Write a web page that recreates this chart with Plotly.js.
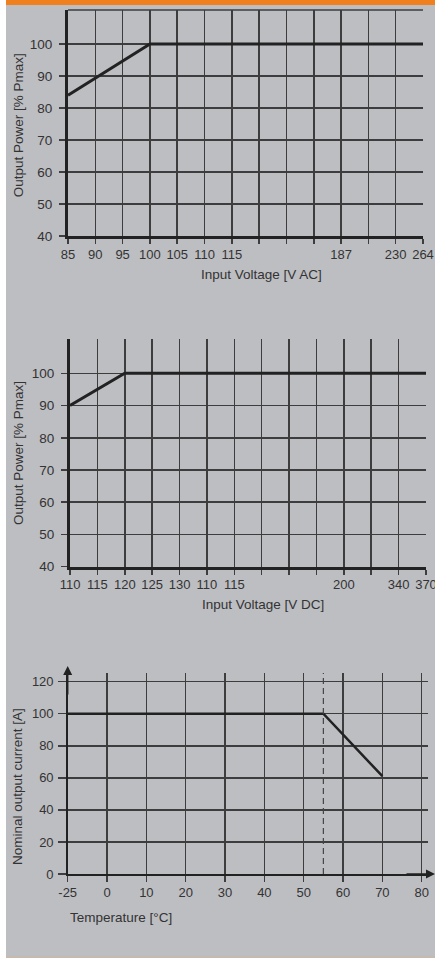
<!DOCTYPE html>
<html>
<head>
<meta charset="utf-8">
<script src="https://cdn.plot.ly/plotly-3.0.1.min.js"></script>
<style>
html,body{margin:0;padding:0;background:#ffffff;}
#chart{width:435px;height:958px;}
</style>
</head>
<body>
<div id="chart"></div>
<script>
// ---- Data ----
// Chart 1: AC input derating
const acTickLabels = ['85','90','95','100','105','110','115','','','','187','','230','264'];
const acCurveVolt = ['85','100','264'];
const acCurvePower = [84, 100, 100];

// Chart 2: DC input derating
const dcTickLabels = ['110','115','120','125','130','110','115','','','','200','','340','370'];
const dcCurveVolt = ['110','120','370'];
const dcCurvePower = [90, 100, 100];

const powerTicks = [40, 50, 60, 70, 80, 90, 100];

// Chart 3: temperature derating
const tempTicks = [-25, 0, 10, 20, 30, 40, 50, 60, 70, 80];
const tempCurve = [-25, 55, 70];
const currentCurve = [100, 100, 61];
const currentTicks = [0, 20, 40, 60, 80, 100, 120];
const deratingStart = 55;

// broken temperature axis: -25 sits one grid step left of 0
function tpos(t) { return t < 0 ? t * 10 / 25 : t; }

// ---- Styling ----
const W = 435, H = 958;
const bg = '#bdbec2';
const ink = '#222222';
const grid = '#3d3d3d';
const txt = '#333333';
const narrow = '"Liberation Sans Narrow", "Arial Narrow", "Liberation Sans", Arial, sans-serif';
const regular = '"Liberation Sans", Arial, sans-serif';
const px = v => v / W;
const py = v => 1 - v / H;

const idx = (labels, v) => labels.indexOf(v);

const traces = [
  {x: acCurveVolt.map(v => idx(acTickLabels, v)), y: acCurvePower, xaxis: 'x', yaxis: 'y',
   mode: 'lines', line: {color: ink, width: 3}, hoverinfo: 'skip', cliponaxis: false},
  {x: dcCurveVolt.map(v => idx(dcTickLabels, v)), y: dcCurvePower, xaxis: 'x2', yaxis: 'y2',
   mode: 'lines', line: {color: ink, width: 3}, hoverinfo: 'skip', cliponaxis: false},
  {x: tempCurve.map(tpos), y: currentCurve, xaxis: 'x3', yaxis: 'y3',
   mode: 'lines', line: {color: ink, width: 2.5}, hoverinfo: 'skip'}
];

function catX(labels, domain, anchor) {
  return {
    domain: domain, anchor: anchor, range: [0, labels.length - 1], type: 'linear',
    tickmode: 'array', tickvals: labels.map((_, i) => i), ticktext: labels,
    showgrid: true, gridcolor: grid, gridwidth: 1.5, zeroline: false,
    ticks: 'outside', ticklen: 5, tickwidth: 1.5, tickcolor: grid,
    showline: true, linecolor: ink, linewidth: 3, ticklabeloverflow: 'allow',
    ticklabelstandoff: -1,
    tickfont: {family: narrow, size: 13, color: txt}, fixedrange: true
  };
}
function powerY(domain, anchor, top) {
  return {
    domain: domain, anchor: anchor, range: [40, top],
    tickmode: 'array', tickvals: powerTicks,
    showgrid: true, gridcolor: grid, gridwidth: 1.5, zeroline: false,
    ticks: 'outside', ticklen: 6, tickwidth: 1.5, tickcolor: grid,
    showline: true, linecolor: ink, linewidth: 3, ticklabelstandoff: 4,
    ticklabeloverflow: 'allow',
    tickfont: {family: narrow, size: 13.5, color: txt}, fixedrange: true
  };
}

const layout = {
  width: W, height: H,
  margin: {l: 0, r: 0, t: 0, b: 0},
  paper_bgcolor: bg, plot_bgcolor: bg,
  showlegend: false,
  xaxis: catX(acTickLabels, [px(68), px(423)], 'y'),
  yaxis: powerY([py(236), py(10)], 'x', 110.6),
  xaxis2: catX(dcTickLabels, [px(70), px(426)], 'y2'),
  yaxis2: powerY([py(566.7), py(339.3)], 'x2', 110.56),
  xaxis3: {
    domain: [px(67.7), px(428)], anchor: 'y3', range: [tpos(-25), 81.6],
    tickmode: 'array', tickvals: tempTicks.map(tpos), ticktext: tempTicks.map(String),
    showgrid: true, gridcolor: grid, gridwidth: 1.5, zeroline: false,
    ticks: 'outside', ticklen: 6, tickwidth: 1.5, tickcolor: grid,
    showline: true, linecolor: ink, linewidth: 1.5, ticklabeloverflow: 'allow',
    tickfont: {family: regular, size: 13, color: txt}, fixedrange: true
  },
  yaxis3: {
    domain: [py(874), py(673)], anchor: 'x3', range: [0, 125.4],
    tickmode: 'array', tickvals: currentTicks,
    showgrid: true, gridcolor: grid, gridwidth: 1.5, zeroline: false,
    ticks: 'outside', ticklen: 8, tickwidth: 1.5, tickcolor: grid,
    showline: true, linecolor: ink, linewidth: 1.5, ticklabelstandoff: 2,
    ticklabeloverflow: 'allow',
    tickfont: {family: regular, size: 13, color: txt}, fixedrange: true
  },
  shapes: [
    // white left strip
    {type: 'rect', xref: 'paper', yref: 'paper', x0: 0, x1: px(6), y0: 0, y1: 1,
     fillcolor: '#ffffff', line: {width: 0}, layer: 'above'},
    // orange top bar
    {type: 'rect', xref: 'paper', yref: 'paper', x0: px(6), x1: 1, y0: py(5), y1: 1,
     fillcolor: '#f0801e', line: {width: 0}, layer: 'above'},
    // thin tan bottom line
    {type: 'rect', xref: 'paper', yref: 'paper', x0: px(6), x1: 1, y0: 0, y1: py(956.5),
     fillcolor: '#c9b9a6', line: {width: 0}, layer: 'above'},
    // top border of chart 1
    {type: 'line', xref: 'x domain', yref: 'y domain', x0: 0, x1: 1, y0: 1, y1: 1,
     line: {color: grid, width: 1.5}},
    // dashed derating line
    {type: 'line', xref: 'x3', yref: 'y3 domain', x0: tpos(deratingStart), x1: tpos(deratingStart), y0: 0, y1: 1,
     line: {color: '#444444', width: 1.2, dash: '6px,4px'}}
  ],
  annotations: [
    // axis titles
    {text: 'Output Power [% Pmax]', xref: 'paper', yref: 'y domain', x: px(18), y: 0.49,
     textangle: -90, showarrow: false, xanchor: 'center', yanchor: 'middle',
     font: {family: narrow, size: 13.5, color: txt}},
    {text: 'Input Voltage [V AC]', xref: 'paper', yref: 'paper', x: px(261), y: py(275),
     showarrow: false, xanchor: 'center', yanchor: 'middle',
     font: {family: narrow, size: 13.5, color: txt}},
    {text: 'Output Power [% Pmax]', xref: 'paper', yref: 'y2 domain', x: px(18), y: 0.5,
     textangle: -90, showarrow: false, xanchor: 'center', yanchor: 'middle',
     font: {family: narrow, size: 13.5, color: txt}},
    {text: 'Input Voltage [V DC]', xref: 'paper', yref: 'paper', x: px(263), y: py(604),
     showarrow: false, xanchor: 'center', yanchor: 'middle',
     font: {family: narrow, size: 13.5, color: txt}},
    {text: 'Nominal output current [A]', xref: 'paper', yref: 'y3 domain', x: px(18), y: 0.433,
     textangle: -90, showarrow: false, xanchor: 'center', yanchor: 'middle',
     font: {family: regular, size: 13.5, color: txt}},
    {text: 'Temperature [°C]', xref: 'paper', yref: 'paper', x: px(68), y: py(917),
     showarrow: false, xanchor: 'left', yanchor: 'middle',
     font: {family: regular, size: 13.5, color: txt}},
    // axis arrows
    {text: '', xref: 'x3 domain', yref: 'y3 domain', x: 0, y: 1, yshift: 7,
     showarrow: true, axref: 'pixel', ayref: 'pixel', ax: 0, ay: 30,
     arrowhead: 2, arrowsize: 1.2, arrowwidth: 1.5, arrowcolor: ink, standoff: 0},
    {text: '', xref: 'x3 domain', yref: 'y3 domain', x: 1, y: 0, xshift: 7,
     showarrow: true, axref: 'pixel', ayref: 'pixel', ax: -30, ay: 0,
     arrowhead: 2, arrowsize: 1.2, arrowwidth: 1.5, arrowcolor: ink, standoff: 0}
  ]
};

Plotly.newPlot('chart', traces, layout, {displayModeBar: false, staticPlot: true});
</script>
</body>
</html>
